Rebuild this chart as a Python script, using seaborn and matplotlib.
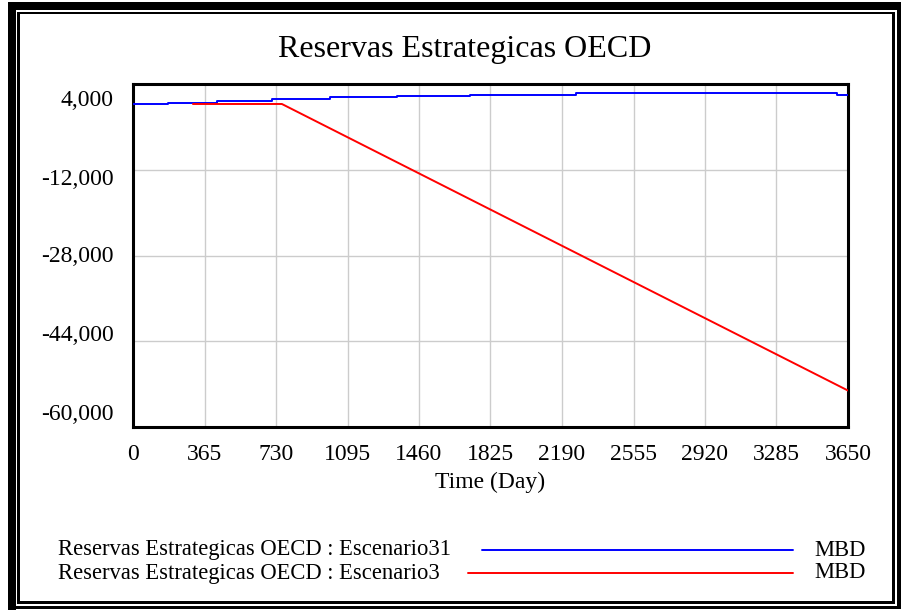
import numpy as np
import pandas as pd
import matplotlib
matplotlib.use("Agg")
import matplotlib.pyplot as plt
import matplotlib.transforms as mtransforms
from matplotlib.patches import Rectangle
from matplotlib.lines import Line2D
import seaborn as sns

# data
time_esc31 = [0, 179, 429, 710, 1006, 1347, 1720, 2261, 3594, 3650]
mbd_esc31 = [270, 510, 830, 1200, 1520, 1820, 2000, 2270, 1950, 1950]
time_esc3 = [306, 760, 3650]
mbd_esc3 = [270, 270, -53200]

x_ticks = list(range(0, 3651, 365))
y_ticks = [4000, -12000, -28000, -44000, -60000]
y_ticklabels = ["4,000", "-12,000", "-28,000", "-44,000", "-60,000"]

title = "Reservas Estrategicas OECD"
series_names = ["Reservas Estrategicas OECD : Escenario31",
                "Reservas Estrategicas OECD : Escenario3"]
units = "MBD"

sns.set_theme(style="white")
plt.rcParams["font.family"] = ["Liberation Serif", "DejaVu Serif"]
plt.rcParams["text.color"] = "black"
plt.rcParams["axes.labelcolor"] = "black"

W, H = 901, 610
fig = plt.figure(figsize=(W / 100, H / 100), dpi=100)
ax = fig.add_axes([133 / W, 1 - 427 / H, (848 - 133) / W, (427 - 84) / H])

df31 = pd.DataFrame({"t": time_esc31, "v": mbd_esc31})
df3 = pd.DataFrame({"t": time_esc3, "v": mbd_esc3})
sns.lineplot(data=df31, x="t", y="v", ax=ax, color="#0000ff", lw=1.4,
             drawstyle="steps-post", zorder=3)
sns.lineplot(data=df3, x="t", y="v", ax=ax, color="#ff0000", lw=1.4, zorder=3)

ax.set_xlim(0, 3650)
ax.set_ylim(-60000, 4000)
ax.set_xticks(x_ticks)
ax.set_yticks(y_ticks)
ax.set_yticklabels(y_ticklabels)
ax.grid(True, color="#cccccc", lw=1)
ax.tick_params(length=0, labelsize=17, colors="black")
ax.tick_params(axis="y", pad=14)
ax.tick_params(axis="x", pad=12)
ax.set_xlabel("Time (Day)", fontsize=17, labelpad=5, color="black")
ax.set_ylabel("")
for sp in ax.spines.values():
    sp.set_color("black")
    sp.set_linewidth(2.2)

# vensim spreads the y labels evenly inside the axis
shifts = [14, 7, -1, -8, -15]
for lab, dy in zip(ax.get_yticklabels(), shifts):
    lab.set_transform(lab.get_transform() +
                      mtransforms.ScaledTranslation(0, -dy / 100, fig.dpi_scale_trans))

fig.text(465 / W, 1 - 50 / H, title, ha="center", va="center", fontsize=23,
         color="black")

# legend rows: name, sample line, units
rows = [(550, 482, "#0000ff"), (573, 468, "#ff0000")]
for (yy, x0, c), name in zip(rows, series_names):
    fig.text(58 / W, 1 - yy / H, name, ha="left", va="center", fontsize=16.3,
             color="black")
    fig.text(866 / W, 1 - yy / H, units, ha="right", va="center", fontsize=16.3,
             color="black")
    fig.add_artist(Line2D([x0 / W, 793 / W], [1 - yy / H, 1 - yy / H],
                          color=c, lw=1.4, transform=fig.transFigure))

# double frame around the whole picture
def bar(x0, y0, x1, y1):
    fig.add_artist(Rectangle((x0 / W, 1 - y1 / H), (x1 - x0) / W, (y1 - y0) / H,
                             transform=fig.transFigure, color="black", lw=0))

bar(8, 2, 901, 10)
bar(8, 2, 16, 610)
bar(8, 606, 901, 609)
bar(897, 2, 901, 609)
bar(17, 12, 895, 14)
bar(17, 12, 20, 604)
bar(17, 601, 895, 604)
bar(892, 12, 895, 604)

fig.savefig("out.png", dpi=100)
